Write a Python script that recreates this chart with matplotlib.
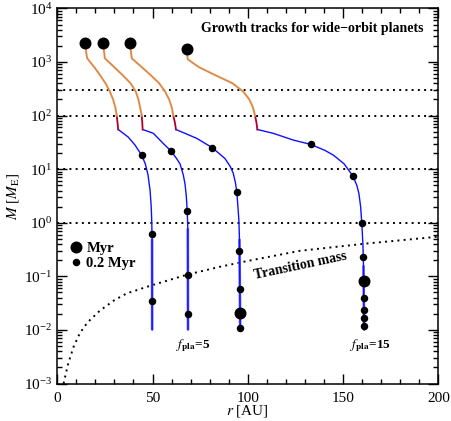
import matplotlib
matplotlib.use("Agg")
import matplotlib.pyplot as plt
from matplotlib.lines import Line2D
from matplotlib.ticker import MultipleLocator, FixedLocator, NullFormatter

plt.rcParams['font.family'] = ['Liberation Serif', 'DejaVu Serif']
plt.rcParams['mathtext.fontset'] = 'stix'

# orange part (gas accretion), from the big Myr dot down to M ~ 100
gas_r = [[14.5, 15.2, 15.7, 19.5, 22.6, 25.3, 27.6, 29.3, 30.5, 31.2],
         [24.1, 24.6, 25.0, 30.0, 34.5, 38.5, 41.2, 42.6, 43.5, 44.3],
         [38.2, 38.7, 39.1, 44.5, 49.2, 53.5, 56.6, 58.7, 60.1, 60.9],
         [67.9, 68.2, 68.5, 74.5, 83.3, 92.0, 97.6, 100.8, 102.7, 103.8]]
gas_m = [[2280, 1500, 1170, 795, 560, 400, 280, 200, 141, 100],
         [2280, 1500, 1170, 795, 560, 400, 280, 200, 141, 100],
         [2280, 1500, 1170, 795, 560, 400, 280, 200, 141, 100],
         [1720, 1350, 1120, 795, 560, 400, 280, 200, 141, 100]]

# red part (envelope contraction)
env_r = [[31.2, 31.6, 32.0], [44.3, 44.6, 44.8], [60.9, 61.7, 62.3], [103.8, 104.5, 105.0]]
env_m = [[100, 75, 55], [100, 75, 55], [100, 75, 55], [100, 75, 55]]

# blue part (pebble accretion + migration), from the kink down to the start
core_r = [[32.0, 37.2, 40.8, 44.3, 46.2, 47.6, 48.7, 49.3, 49.6, 49.75],
          [44.8, 50.4, 55.6, 59.7, 62.6, 64.4, 66.1, 67.0, 67.7, 68.2, 68.5],
          [62.3, 73.2, 81.4, 88.0, 90.8, 92.4, 93.5, 94.2, 94.8, 95.3, 95.6],
          [105.0, 113.4, 123.9, 133.0, 140.5, 144.9, 150.5, 155.1, 157.2, 158.3, 159.2, 159.8, 160.4, 160.7]]
core_m = [[55, 39.8, 28.2, 18.2, 12.6, 7.9, 4.0, 2.0, 1.0, 0.5],
          [55, 46.8, 30.2, 21.9, 15.8, 12.6, 7.9, 5.4, 3.2, 1.66, 0.79],
          [55, 37.6, 25.1, 15.8, 11.2, 8.3, 5.6, 3.8, 2.0, 1.12, 0.5],
          [55, 46.6, 34.9, 29.0, 22.4, 18.3, 12.6, 7.5, 5.0, 3.5, 2.0, 1.0, 0.4, 0.16]]
start_r = [49.8, 68.6, 96.0, 161.0]
start_m = 0.01

# 0.2 Myr markers
dot_r = [44.3, 49.6, 49.7, 59.7, 68.2, 68.5, 68.5, 81.4, 94.2, 95.5, 95.9, 96.0,
         133.0, 155.1, 159.8, 160.5, 161.0, 161.0, 161.0, 161.0]
dot_m = [18.3, 0.63, 0.034, 22, 1.65, 0.106, 0.0195, 25, 3.8, 0.30, 0.057, 0.011,
         29, 7.5, 1.0, 0.232, 0.039, 0.0235, 0.0166, 0.0117]
# Myr markers
big_r = [14.5, 24.1, 38.2, 67.9, 96.0, 160.8]
big_m = [2280, 2280, 2280, 1720, 0.0204, 0.082]

# transition mass
tr_r = [3.3, 5.8, 8.5, 11.9, 16.0, 22.4, 30.0, 36.4, 49.5, 67.9, 85.0, 100.3, 127.4, 162.4, 200.0]
tr_m = [0.001, 0.0024, 0.0048, 0.0088, 0.014, 0.023, 0.036, 0.048, 0.068, 0.107, 0.15, 0.195, 0.30, 0.41, 0.55]

hlines = [1, 10, 100, 300]
yticks = [1e-3, 1e-2, 1e-1, 1e0, 1e1, 1e2, 1e3, 1e4]

fig = plt.figure(figsize=(4.51, 4.21), dpi=100)
ax = fig.add_axes([0.127, 0.089, 0.845, 0.891])

dot_style = dict(color='black', lw=1.4, linestyle=(0, (1, 2.2)), dash_capstyle='butt')
for h in hlines:
    ax.axhline(h, **dot_style)
ax.plot(tr_r, tr_m, **dot_style)

for i in range(4):
    ax.plot([core_r[i][-1], start_r[i]], [core_m[i][-1], start_m], color='#6060ff', lw=1.9, solid_capstyle='butt')
    ax.plot(core_r[i] + [start_r[i]], core_m[i] + [start_m], color='#1010ff', lw=1.0)
    ax.plot(env_r[i], env_m[i], color='#b00028', lw=1.3)
    ax.plot(gas_r[i], gas_m[i], color='#f0a050', lw=1.5)
    ax.plot(gas_r[i], gas_m[i], color='#c07060', lw=0.4)

ax.plot(dot_r, dot_m, 'o', color='black', ms=4.4, zorder=5)
ax.plot(big_r, big_m, 'o', color='black', ms=7.6, zorder=5)

ax.set_xlim(0, 200)
ax.set_yscale('log')
ax.set_ylim(1e-3, 1e4)
ax.xaxis.set_major_locator(MultipleLocator(50))
ax.xaxis.set_minor_locator(MultipleLocator(10))
ax.yaxis.set_major_locator(FixedLocator(yticks))
ax.yaxis.set_minor_locator(FixedLocator([k * t for t in yticks[:-1] for k in range(2, 10)]))
ax.yaxis.set_minor_formatter(NullFormatter())
ax.tick_params(which='both', direction='in', top=True, right=True, labelsize=11, width=1.0)
ax.tick_params(which='major', length=7)
ax.tick_params(which='minor', length=3.5)
ax.tick_params(axis='x', pad=6)
for s in ax.spines.values():
    s.set_linewidth(1.1)

ax.set_xlabel('$r$ [AU]', fontsize=11, labelpad=-1)
ax.set_ylabel(r'$M$ [$M_{\rm E}$]', fontsize=11, labelpad=2)

ax.text(0.961, 0.947, 'Growth tracks for wide\u2212orbit planets', transform=ax.transAxes,
        ha='right', va='center', fontsize=10, fontweight='bold')
ax.text(62.3, 0.005, r'$f_{\mathbf{pla}}$=5', fontsize=9.5, fontweight='bold', va='center')
ax.text(153.7, 0.005, r'$f_{\mathbf{pla}}$=15', fontsize=9.5, fontweight='bold', va='center')
ax.text(127.5, 0.16, 'Transition mass', fontsize=10, fontweight='bold', rotation=12,
        ha='center', va='center')

handles = [Line2D([], [], marker='o', ls='', color='black', ms=7.6, label='Myr'),
           Line2D([], [], marker='o', ls='', color='black', ms=4.4, label='0.2 Myr')]
ax.legend(handles=handles, frameon=False, loc='upper left', bbox_to_anchor=(0.0, 0.405),
          handletextpad=0.1, handlelength=1.2, labelspacing=0.15, borderaxespad=0.3,
          prop={'weight': 'bold', 'size': 10.5, 'family': 'Liberation Serif'})

fig.savefig('out.png', dpi=100)
